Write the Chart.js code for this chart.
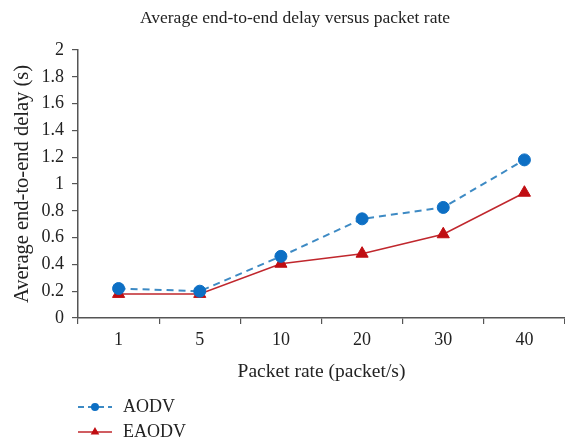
<!DOCTYPE html>
<html>
<head>
<meta charset="utf-8">
<script src="https://cdn.jsdelivr.net/npm/chart.js@4/dist/chart.umd.min.js"></script>
<style>
  html, body { margin: 0; padding: 0; background: #fff; overflow: hidden; }
  canvas { display: block; }
</style>
</head>
<body>
<canvas id="c" width="565" height="440"></canvas>
<script>
const categories = ['1', '5', '10', '20', '30', '40'];
const aodvValues = [0.22, 0.20, 0.46, 0.74, 0.825, 1.18];
const eaodvValues = [0.18, 0.18, 0.405, 0.48, 0.625, 0.935];
const yTicks = [0, 0.2, 0.4, 0.6, 0.8, 1, 1.2, 1.4, 1.6, 1.8, 2];
const chartTitle = 'Average end-to-end delay versus packet rate';

const SERIF = "'Liberation Serif', 'DejaVu Serif', serif";
const TEXT = '#222';

new Chart(document.getElementById('c'), {
  type: 'line',
  data: {
    labels: categories,
    datasets: [
      {
        label: 'AODV',
        data: aodvValues,
        borderColor: '#3d8ac4',
        borderWidth: 2,
        borderDash: [7, 5],
        pointStyle: 'circle',
        pointRadius: 6,
        pointHoverRadius: 6,
        legendRadius: 3,
        pointBackgroundColor: '#0d6fc4',
        pointBorderColor: '#0d6fc4',
        pointBorderWidth: 1,
        tension: 0,
        fill: false,
        clip: false
      },
      {
        label: 'EAODV',
        data: eaodvValues,
        borderColor: '#c0272d',
        borderWidth: 1.5,
        pointStyle: 'triangle',
        pointRadius: 7,
        pointHoverRadius: 7,
        legendRadius: 3.5,
        pointBackgroundColor: '#c00d12',
        pointBorderColor: '#c00d12',
        pointBorderWidth: 1,
        tension: 0,
        fill: false,
        clip: false
      }
    ]
  },
  options: {
    responsive: false,
    animation: false,
    layout: { autoPadding: false, padding: { left: 0, right: -9, top: 50, bottom: 52 } },
    plugins: {
      legend: { display: false },
      tooltip: { enabled: false },
      title: { display: false }
    },
    scales: {
      x: {
        type: 'category',
        offset: true,
        grid: {
          offset: true,
          drawOnChartArea: false,
          drawTicks: true,
          tickLength: 6,
          color: '#555',
          lineWidth: 1.2
        },
        border: { display: true, color: '#555', width: 1.5 },
        ticks: {
          color: TEXT,
          font: { family: SERIF, size: 18 },
          padding: 5,
          maxRotation: 0
        },
        title: {
          display: true,
          text: 'Packet rate (packet/s)',
          color: TEXT,
          font: { family: SERIF, size: 19.5, lineHeight: 1.2 },
          padding: { top: 6, bottom: 4 }
        },
        afterFit(scale) { scale.height = 70; }
      },
      y: {
        min: 0,
        max: 2,
        afterBuildTicks(scale) { scale.ticks = yTicks.map(v => ({ value: v })); },
        grid: {
          drawOnChartArea: false,
          drawTicks: true,
          tickLength: 6,
          color: '#555',
          lineWidth: 1.2
        },
        border: { display: true, color: '#555', width: 1.5 },
        ticks: {
          color: TEXT,
          font: { family: SERIF, size: 18 },
          padding: 8,
          callback: v => String(v)
        },
        title: {
          display: true,
          text: 'Average end-to-end delay (s)',
          color: TEXT,
          font: { family: SERIF, size: 20.5, lineHeight: 1.2 },
          padding: { top: 10, bottom: 4 }
        },
        afterFit(scale) { scale.width = 78; }
      }
    }
  },
  plugins: [{
    id: 'titleAndLegend',
    afterDraw(chart) {
      const ctx = chart.ctx;
      ctx.save();
      ctx.font = "17.5px " + SERIF;
      ctx.fillStyle = TEXT;
      ctx.textAlign = 'center';
      ctx.textBaseline = 'middle';
      ctx.fillText(chartTitle, 295, 18);
      ctx.restore();
      const rows = [
        { ds: chart.data.datasets[0], y: 407 },
        { ds: chart.data.datasets[1], y: 432 }
      ];
      const x0 = 78, x1 = 112, tx = 123;
      rows.forEach(r => {
        ctx.save();
        ctx.strokeStyle = r.ds.borderColor;
        ctx.lineWidth = r.ds.borderWidth;
        ctx.setLineDash(r.ds.borderDash ? [6, 4] : []);
        ctx.beginPath();
        ctx.moveTo(x0, r.y);
        ctx.lineTo(x1, r.y);
        ctx.stroke();
        ctx.setLineDash([]);
        ctx.fillStyle = r.ds.pointBackgroundColor;
        ctx.strokeStyle = r.ds.pointBorderColor;
        Chart.helpers.drawPoint(ctx, {
          pointStyle: r.ds.pointStyle,
          radius: r.ds.legendRadius,
          borderWidth: 1
        }, (x0 + x1) / 2, r.y);
        ctx.restore();
        ctx.save();
        ctx.font = "18px " + SERIF;
        ctx.fillStyle = TEXT;
        ctx.textBaseline = 'middle';
        ctx.fillText(r.ds.label, tx, r.y);
        ctx.restore();
      });
    }
  }]
});
</script>
</body>
</html>
